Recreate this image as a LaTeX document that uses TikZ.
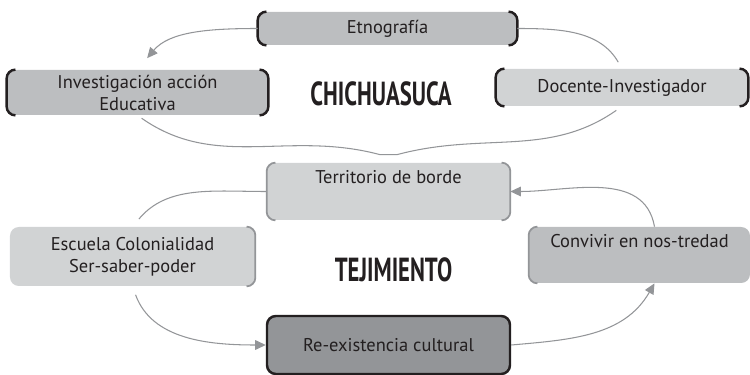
\documentclass[tikz,border=0pt]{standalone}
\usepackage{fontspec}
\setmainfont{PT Sans}
\newfontfamily\condfont{PT Sans}[FakeStretch=0.68]
\usetikzlibrary{arrows.meta,positioning}
\definecolor{ink}{HTML}{231F20}
\definecolor{lgray}{HTML}{939598}
\definecolor{midfill}{HTML}{BCBEC0}
\definecolor{palefill}{HTML}{D1D3D4}
\definecolor{darkfill}{HTML}{939598}

\begin{document}
\begin{tikzpicture}[
    box/.style={rounded corners=5pt, inner sep=0pt, align=center, text=ink, font=\fontsize{10.5}{12.5}\selectfont},
    title/.style={anchor=base, text=ink, font=\condfont\bfseries\fontsize{19}{22}\selectfont},
    blackbrack/.style={draw=ink, line width=1.4pt, rounded corners=5pt},
    graybrack/.style={draw=lgray, line width=1pt, rounded corners=5pt},
    link/.style={draw=lgray, line width=0.6pt},
    arrow/.style={link, -{Triangle[length=6pt,width=5.5pt]}}
]
    \useasboundingbox (0,0) rectangle (15,7.5);

    % Upper ring
    \node[box, fill=midfill, minimum width=5.18cm, minimum height=0.66cm] (etno) at (7.75,6.93) {Etnografía};
    \node[box, fill=midfill, minimum width=5.22cm, minimum height=0.9cm] (invest) at (2.75,5.65) {Investigación acción\\Educativa};
    \node[box, fill=palefill, minimum width=5.04cm, minimum height=0.74cm] (docente) at (12.44,5.75) {Docente-Investigador};
    \node[title] (chichu) at (7.62,5.38) {CHICHUASUCA};

    % Lower ring
    \node[box, fill=palefill, minimum width=4.86cm, minimum height=1.14cm] (terr) at (7.77,3.67) {Territorio de borde\\ \strut};
    \node[box, fill=palefill, minimum width=4.9cm, minimum height=1.18cm] (escuela) at (2.65,2.37) {Escuela Colonialidad\\Ser-saber-poder};
    \node[box, fill=midfill, minimum width=4.42cm, minimum height=1.12cm] (conv) at (12.79,2.4) {Convivir en nos-tredad\\ \strut};
    \node[box, fill=darkfill, draw=ink, line width=1.4pt, minimum width=4.86cm, minimum height=1.16cm] (reex) at (7.77,0.6) {Re-existencia cultural};
    \node[title] (teji) at (7.87,1.86) {TEJIMIENTO};

    % Side brackets
    \foreach \n/\s in {etno/blackbrack, invest/blackbrack, docente/blackbrack, terr/graybrack, conv/graybrack}
        \draw[\s] ([xshift=5pt]\n.north west) -- (\n.north west) -- (\n.south west) -- ([xshift=5pt]\n.south west);
    \foreach \n/\s in {etno/blackbrack, invest/blackbrack, docente/blackbrack, terr/graybrack, escuela/graybrack}
        \draw[\s] ([xshift=-5pt]\n.north east) -- (\n.north east) -- (\n.south east) -- ([xshift=-5pt]\n.south east);

    % Upper connectors
    \coordinate (brace) at ([yshift=0.16cm]terr.north);
    \draw[arrow, shorten >=0.3cm] (etno.west) to[out=180, in=50] (invest.north);
    \draw[link, shorten >=0.15cm] (etno.east) to[out=0, in=120] (docente.north);
    \draw[link, shorten <=0.1cm, shorten >=0.14cm] (invest.south) to[out=-35, in=165] ([xshift=-0.17cm]brace)
        -- ([xshift=0.17cm]brace) to[out=15, in=-145] (docente.south);

    % Lower connectors
    \draw[link, shorten >=0.2cm] (terr.west) to[out=180, in=50] (escuela.north);
    \draw[arrow, shorten <=0.18cm] (escuela.south) to[out=-70, in=180] (reex.west);
    \draw[arrow] (reex.east) to[out=5, in=-120] ([xshift=0.3cm]conv.south);
    \draw[arrow] ([xshift=0.3cm]conv.north) to[out=100, in=0] (terr.east);
\end{tikzpicture}
\end{document}
